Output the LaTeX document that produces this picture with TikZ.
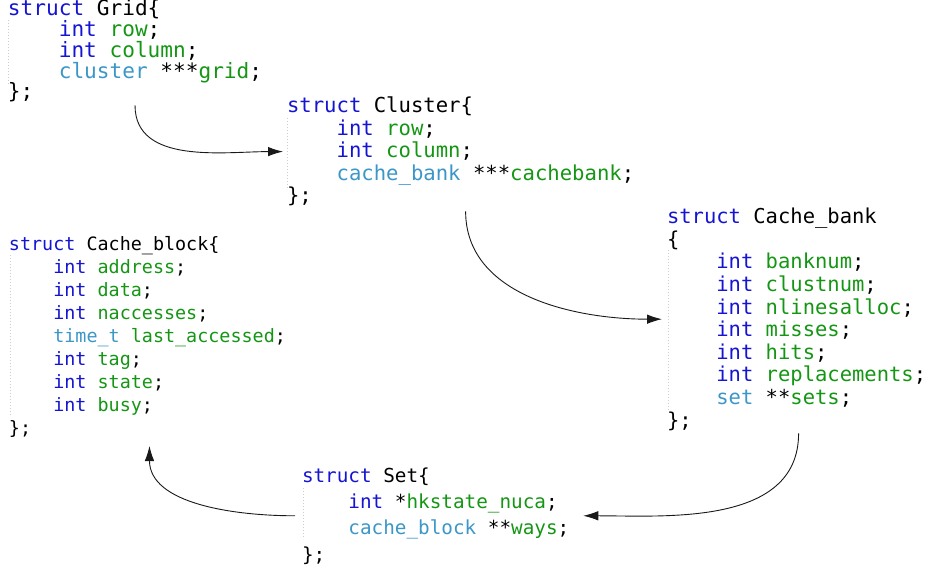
\documentclass[tikz,border=0pt]{standalone}
\usepackage{fontspec}
\newfontfamily\codefont{DejaVu Sans Mono}
\usetikzlibrary{arrows.meta}
\definecolor{kwblue}{RGB}{20,20,210}
\definecolor{typeblue}{RGB}{60,150,200}
\definecolor{fieldgreen}{RGB}{20,150,20}
\definecolor{guidegray}{RGB}{205,205,205}
\newcommand{\ckw}[1]{\textcolor{kwblue}{#1}}
\newcommand{\ctype}[1]{\textcolor{typeblue}{#1}}
\newcommand{\cfield}[1]{\textcolor{fieldgreen}{#1}}
\newcommand{\ind}{\hphantom{0000}}

\begin{document}
\begin{tikzpicture}[x=1pt,y=-1pt,>={Latex[length=15pt,width=9.5pt]}]
        \tikzstyle{code}=[inner sep=0pt,outer sep=0pt,align=left,anchor=base west]
        \tikzstyle{link}=[draw=black!90, line width=0.9pt, ->]
        \tikzstyle{guide}=[draw=guidegray, dotted, line width=1pt]

        \useasboundingbox (0,0) rectangle (927,567);

        % anchor is the baseline of the last line
        \node [code, font=\codefont\fontsize{21.1}{20.75}\selectfont] (grid) at (8,99)
              {\ckw{struct} Grid\{\\
               \ind\ckw{int} \cfield{row};\\
               \ind\ckw{int} \cfield{column};\\
               \ind\ctype{cluster} ***\cfield{grid};\\
               \};};
        \node [code, font=\codefont\fontsize{20.6}{22.6}\selectfont] (cluster) at (287,203)
              {\ckw{struct} Cluster\{\\
               \ind\ckw{int} \cfield{row};\\
               \ind\ckw{int} \cfield{column};\\
               \ind\ctype{cache\_bank} ***\cfield{cachebank};\\
               \};};
        \node [code, font=\codefont\fontsize{20.5}{22.6}\selectfont] (cachebank) at (667,427)
              {\ckw{struct} Cache\_bank\\
               \{\\
               \ind\ckw{int} \cfield{banknum};\\
               \ind\ckw{int} \cfield{clustnum};\\
               \ind\ckw{int} \cfield{nlinesalloc};\\
               \ind\ckw{int} \cfield{misses};\\
               \ind\ckw{int} \cfield{hits};\\
               \ind\ckw{int} \cfield{replacements};\\
               \ind\ctype{set} **\cfield{sets};\\
               \};};
        \node [code, font=\codefont\fontsize{18.4}{23}\selectfont] (cacheblock) at (9,434)
              {\ckw{struct} Cache\_block\{\\
               \ind\ckw{int} \cfield{address};\\
               \ind\ckw{int} \cfield{data};\\
               \ind\ckw{int} \cfield{naccesses};\\
               \ind\ctype{time\_t} \cfield{last\_accessed};\\
               \ind\ckw{int} \cfield{tag};\\
               \ind\ckw{int} \cfield{state};\\
               \ind\ckw{int} \cfield{busy};\\
               \};};
        \node [code, font=\codefont\fontsize{19.3}{26.3}\selectfont] (set) at (302,561)
              {\ckw{struct} Set\{\\
               \ind\ckw{int} *\cfield{hkstate\_nuca};\\
               \ind\ctype{cache\_block} **\cfield{ways};\\
               \};};

        % indent guides
        \draw[guide] (8,20) -- (8,84);
        \draw[guide] (287,118) -- (287,188);
        \draw[guide] (668,250) -- (668,411);
        \draw[guide] (10,255) -- (10,416);
        \draw[guide] (303,488) -- (303,539);

        \path (grid.south)                   edge [link, out=-90, in=180, shorten <=3pt, shorten >=4pt] (cluster.west);
        \path ([xshift=5pt]cluster.south)    edge [link, out=-90, in=180, shorten <=5pt, shorten >=5pt] (cachebank.west);
        \path ([xshift=2pt]cachebank.south)  edge [link, out=-90, in=0,   shorten <=3pt, shorten >=14pt] (set.east);
        \path (set.west)                     edge [link, out=180, in=-90, shorten <=7pt, shorten >=9pt] ([xshift=2pt]cacheblock.south);
\end{tikzpicture}
\end{document}
